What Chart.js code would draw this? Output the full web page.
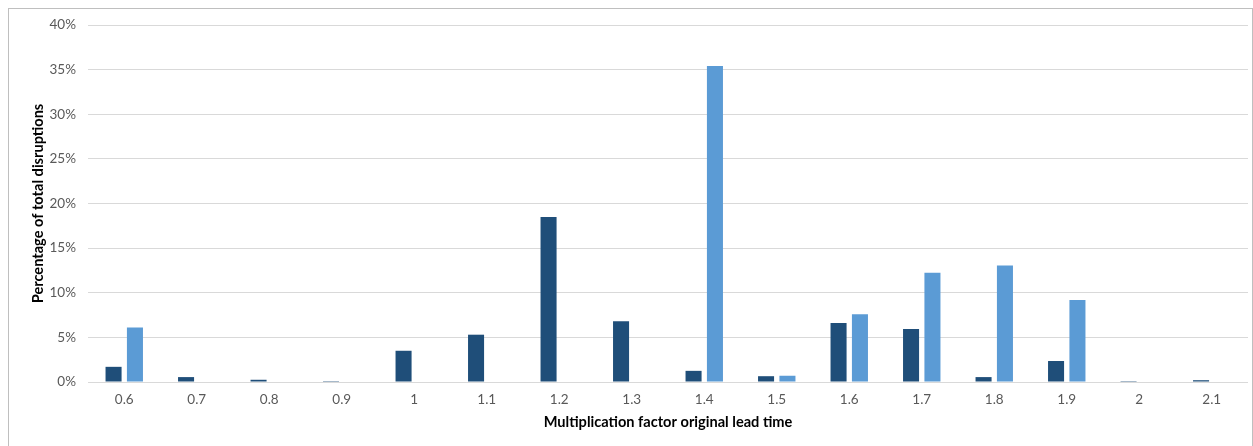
<!DOCTYPE html>
<html>
<head>
<meta charset="utf-8">
<script src="https://cdn.jsdelivr.net/npm/chart.js@4"></script>
<style>
    html, body { margin: 0; padding: 0; background: #fff; }
    #wrap { position: relative; width: 1253px; height: 446px; }
</style>
</head>
<body>
<div id="wrap"><canvas id="chart"></canvas></div>
<script>
// values (percent of total disruptions)
const categories = ['0.6', '0.7', '0.8', '0.9', '1', '1.1', '1.2', '1.3', '1.4', '1.5', '1.6', '1.7', '1.8', '1.9', '2', '2.1'];
const darkSeries = [1.7, 0.55, 0.25, 0.1, 3.5, 5.3, 18.5, 6.8, 1.25, 0.65, 6.6, 5.95, 0.55, 2.35, 0.1, 0.2];
const lightSeries = [6.1, 0, 0, 0, 0, 0, 0, 0, 35.4, 0.7, 7.6, 12.25, 13.05, 9.2, 0, 0];
const yTicks = [0, 5, 10, 15, 20, 25, 30, 35, 40];

const fontFamily = "Lato, 'Noto Sans', sans-serif";

// outer frame like the original office chart
const framePlugin = {
    id: 'frame',
    beforeDraw(chart) {
        const ctx = chart.ctx;
        ctx.save();
        ctx.fillStyle = '#fff';
        ctx.fillRect(0, 0, chart.width, chart.height);
        ctx.strokeStyle = '#BFBFBF';
        ctx.lineWidth = 1;
        ctx.strokeRect(8.5, 8.5, chart.width - 9, chart.height + 20);
        ctx.restore();
    }
};

var canvas = document.getElementById('chart');
var config = {
    type: 'bar',
    data: {
        labels: categories,
        datasets: [
            {
                label: 'Series 1',
                data: darkSeries,
                backgroundColor: '#1F4E79',
                categoryPercentage: 0.59,
                barPercentage: 0.75,
            },
            {
                label: 'Series 2',
                data: lightSeries,
                backgroundColor: '#5B9BD5',
                categoryPercentage: 0.59,
                barPercentage: 0.75,
            },
        ],
    },
    options: {
        responsive: false,
        animation: false,
        layout: {
            padding: { left: 12, right: 5, top: 25, bottom: 0 }
        },
        plugins: {
            legend: { display: false },
            tooltip: { enabled: false },
        },
        scales: {
            x: {
                grid: { display: false, drawTicks: false },
                border: { display: false },
                ticks: {
                    color: '#595959',
                    padding: 10,
                    font: { family: fontFamily, size: 13.5 },
                },
                title: {
                    display: true,
                    text: 'Multiplication factor original lead time',
                    color: '#000',
                    font: { family: fontFamily, size: 14.6, weight: 'bold' },
                    padding: { top: 4, bottom: 15 },
                },
                afterFit: function (scale) { scale.height = 64; },
            },
            y: {
                min: 0,
                max: 40,
                grid: { color: '#D9D9D9', lineWidth: 1, drawTicks: false },
                border: { display: false },
                afterBuildTicks: function (scale) {
                    scale.ticks = yTicks.map(v => ({ value: v }));
                },
                ticks: {
                    color: '#595959',
                    padding: 12,
                    font: { family: fontFamily, size: 13.5 },
                    callback: function (value) { return value + '%'; },
                },
                title: {
                    display: true,
                    text: 'Percentage of total disruptions',
                    color: '#000',
                    font: { family: fontFamily, size: 14.6, weight: 'bold' },
                    padding: { top: 18, bottom: 0 },
                },
                afterFit: function (scale) { scale.width = 76; },
            },
        },
    },
    plugins: [framePlugin],
};

canvas.width = 1253;
canvas.height = 446;
new Chart(canvas.getContext('2d'), config);
</script>
</body>
</html>
